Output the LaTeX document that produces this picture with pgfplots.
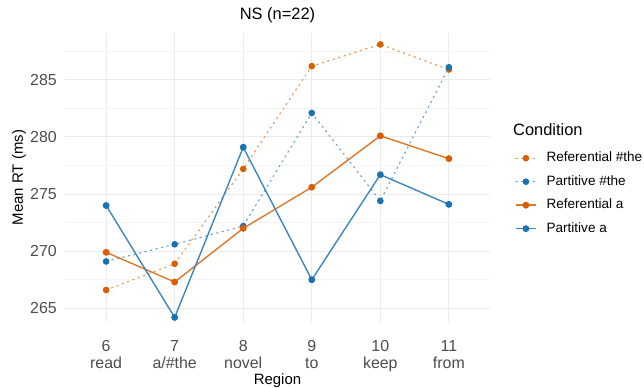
\documentclass[border=0pt]{standalone}
\usepackage{fontspec}
\setmainfont{Liberation Sans}
\usepackage{pgfplots}
\pgfplotsset{compat=1.18}
\definecolor{cor}{HTML}{D95F02}
\definecolor{cbl}{HTML}{1B72B0}
\definecolor{gmaj}{HTML}{EBEBEB}
\definecolor{gmin}{HTML}{F4F4F4}
\definecolor{tickgray}{HTML}{4D4D4D}
\begin{document}
\begin{tikzpicture}
\begin{axis}[
  scale only axis, width=425bp, height=289bp,
  clip mode=individual,
  xmin=5.4, xmax=11.6, ymin=263.8, ymax=289.1,
  xtick={6,7,8,9,10,11},
  xticklabels={{6\\read},{7\\a/\#the},{8\\novel},{9\\to},{10\\keep},{11\\from}},
  ytick={265,270,275,280,285},
  minor ytick={267.5,272.5,277.5,282.5,287.5},
  xmajorgrids, ymajorgrids, yminorgrids,
  major grid style={gmaj, line width=0.9bp},
  minor grid style={gmin, line width=0.6bp},
  axis line style={draw=none},
  major tick length=0pt, minor tick length=0pt,
  tick style={draw=none},
  /pgf/number format/assume math mode=true,
  yticklabel style={font=\fontsize{16}{17}\selectfont, text=tickgray, anchor=east, inner sep=0pt, xshift=-8bp},
  xticklabel style={font=\fontsize{16}{17}\selectfont, text=tickgray, align=center, anchor=north, inner sep=0pt, yshift=-18bp},
  title={NS (n=22)},
  title style={font=\fontsize{16.5}{18}\selectfont, at={(axis description cs:0.5,1)}, anchor=base, yshift=8bp},
  xlabel={Region},
  xlabel style={font=\fontsize{15}{17}\selectfont, at={(axis description cs:0.5,0)}, anchor=base, yshift=-62bp},
  ylabel={Mean RT (ms)},
  every axis y label/.style={font=\fontsize{15}{17}\selectfont, at={(axis description cs:0,0.5)}, rotate=90, anchor=base, yshift=42bp},
  legend cell align=left,
  legend image code/.code={\draw[mark repeat=2,mark phase=2,#1] plot coordinates {(0bp,0bp) (10bp,0bp) (20bp,0bp)};},
  legend style={at={(axis description cs:1.0588,0.59)}, anchor=north west, draw=none, fill=none, inner sep=0pt,
    font=\fontsize{13.6}{16}\selectfont, row sep=10.5bp,
    nodes={text height=10bp, text depth=3bp, inner ysep=0pt, inner xsep=0pt},
    /tikz/every odd column/.append style={column sep=10bp}},
]
\addplot[cor!65, line width=1.2bp, dash pattern=on 1.4bp off 4.3bp, line cap=round, mark=*, mark size=2.7bp, mark options={solid, fill=cor, draw=cor}]
  coordinates {(6,266.6) (7,268.9) (8,277.2) (9,286.2) (10,288.1) (11,285.9)};
\addlegendentry{Referential \#the}
\addplot[cbl!65, line width=1.2bp, dash pattern=on 1.4bp off 4.3bp, line cap=round, mark=*, mark size=2.7bp, mark options={solid, fill=cbl, draw=cbl}]
  coordinates {(6,269.1) (7,270.6) (8,272.2) (9,282.1) (10,274.4) (11,286.1)};
\addlegendentry{Partitive \#the}
\addplot[cor!85, line width=1.4bp, mark=*, mark size=2.7bp, mark options={solid, fill=cor, draw=cor}]
  coordinates {(6,269.9) (7,267.3) (8,272.0) (9,275.6) (10,280.1) (11,278.1)};
\addlegendentry{Referential a}
\addplot[cbl!85, line width=1.4bp, mark=*, mark size=2.7bp, mark options={solid, fill=cbl, draw=cbl}]
  coordinates {(6,274.0) (7,264.2) (8,279.1) (9,267.5) (10,276.7) (11,274.1)};
\addlegendentry{Partitive a}
\node[anchor=base west, font=\fontsize{16.5}{18}\selectfont, inner sep=0pt] at (axis description cs:1.054,0.6436) {Condition};
\end{axis}
\pgfresetboundingbox
\path (-65bp,-66bp) rectangle (579bp,322bp);
\end{tikzpicture}
\end{document}
